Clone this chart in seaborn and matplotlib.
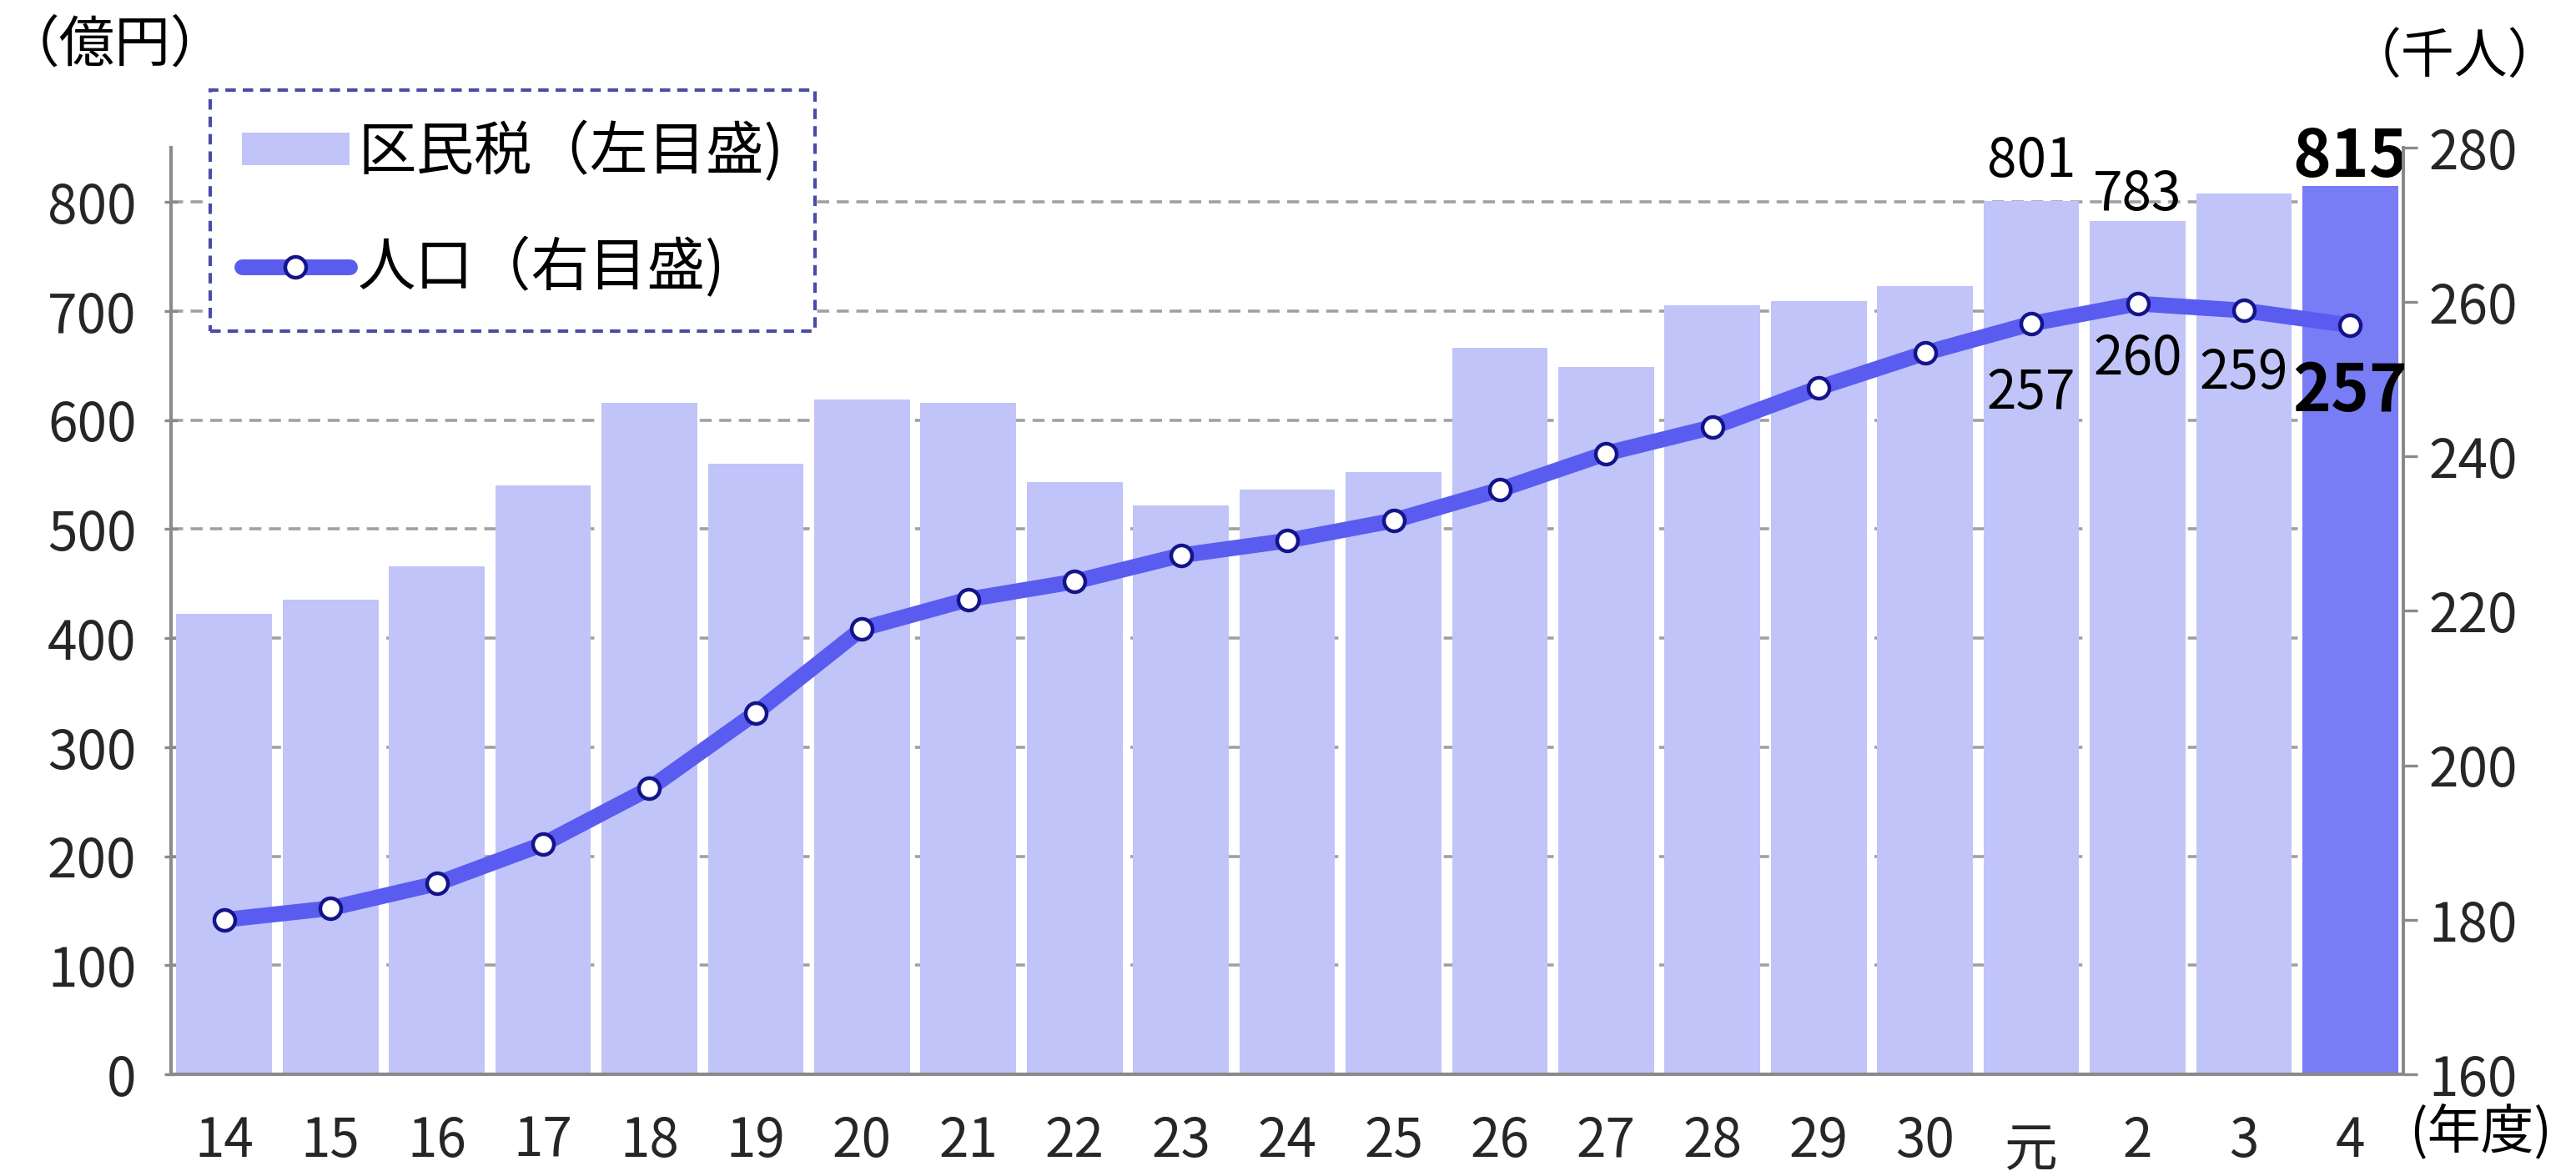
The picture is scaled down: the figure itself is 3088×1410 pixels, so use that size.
import numpy as np
import pandas as pd
import seaborn as sns
import matplotlib
matplotlib.use("Agg")
import matplotlib.pyplot as plt
from matplotlib.lines import Line2D
from matplotlib.patches import Patch
from matplotlib.transforms import ScaledTranslation

# fiscal years (Heisei 14-30, Reiwa 元-4)
years = ["14", "15", "16", "17", "18", "19", "20", "21", "22", "23", "24",
         "25", "26", "27", "28", "29", "30", "元", "2", "3", "4"]
# ward resident tax (億円, left axis)
tax = [422, 435, 466, 540, 616, 560, 619, 616, 543, 522, 536,
       552, 666, 649, 705, 709, 723, 801, 783, 808, 815]
# population (千人, right axis)
pop = [180.0, 181.5, 184.7, 189.8, 197.0, 206.8, 217.7, 221.5, 223.8, 227.2, 229.1,
       231.7, 235.7, 240.4, 243.8, 248.9, 253.4, 257.2, 259.8, 258.9, 257.0]
tax_labels = {"元": "801", "2": "783", "4": "815"}
pop_labels = {"元": "257", "2": "260", "3": "259", "4": "257"}

LIGHT = "#c0c4f8"
DARK = "#787cf5"
LINE = "#5a5cf0"
GRAY = "#8a8a8a"

sns.set_theme(style="white")
plt.rcParams["font.family"] = ["Noto Sans CJK JP", "DejaVu Sans"]
plt.rcParams["text.color"] = "black"

df = pd.DataFrame({"year": years, "tax": tax, "pop": pop})
df["pos"] = np.arange(len(df))

fig = plt.figure(figsize=(15.44, 7.05), dpi=200)
ax = fig.add_axes([0.0664, 0.0865, 0.8666, 0.788])

colors = [LIGHT] * (len(years) - 1) + [DARK]
sns.barplot(data=df, x="year", y="tax", hue="year", palette=colors, legend=False,
            width=0.9, saturation=1, linewidth=0, ax=ax)
ax.set_xlim(-0.5, len(years) - 0.5)
ax.set_ylim(0, 850)
ax.set_yticks(np.arange(0, 801, 100))
ax.set_xlabel("")
ax.set_ylabel("")
ax.set_axisbelow(True)
ax.yaxis.grid(True, color="#a0a0a0", linestyle=(0, (4, 2.5)), linewidth=1.3)
ax.xaxis.grid(False)

ax.set_xticks(np.arange(-0.5, len(years), 1), minor=True)
ax.tick_params(axis="x", which="major", length=0, pad=17, labelsize=23)
ax.tick_params(axis="x", which="minor", length=7, width=1.2, color=GRAY, direction="out")
ax.tick_params(axis="y", length=6, width=1.2, color=GRAY, direction="inout", pad=12, labelsize=23)
ax.yaxis.set_ticks_position("left")
for lab in ax.get_xticklabels():
    if lab.get_text() == "元":
        lab.set_transform(lab.get_transform() + ScaledTranslation(0, -4 / 72, fig.dpi_scale_trans))

for s in ["left", "bottom", "right"]:
    ax.spines[s].set_color(GRAY)
    ax.spines[s].set_linewidth(1.4)
ax.spines["top"].set_visible(False)

# population line on the right axis
ax2 = ax.twinx()
sns.lineplot(data=df, x="pos", y="pop", ax=ax2, color=LINE, linewidth=6.8,
             marker="o", markersize=9, markerfacecolor="white",
             markeredgecolor="#14148a", markeredgewidth=1.6)
ax2.set_ylim(160, 280)
ax2.set_yticks(np.arange(160, 281, 20))
ax2.set_ylabel("")
ax2.set_xlabel("")
ax2.tick_params(axis="y", length=6, width=1.2, color=GRAY, direction="out", pad=5, labelsize=23)
ax2.grid(False)
for s in ["left", "bottom", "right"]:
    ax2.spines[s].set_color(GRAY)
    ax2.spines[s].set_linewidth(1.4)
ax2.spines["top"].set_visible(False)

# value labels
tax_off = {"元": 17, "2": 11, "4": 12}
for i, y in enumerate(years):
    if y in tax_labels:
        bold = y == years[-1]
        ax.annotate(tax_labels[y], (i, tax[i]), xytext=(0, tax_off[y]),
                    textcoords="offset points", ha="center", va="center",
                    fontsize=28 if bold else 23, fontweight="bold" if bold else "normal")
pop_off = {"元": -30, "2": -24, "3": -27, "4": -29}
for i, y in enumerate(years):
    if y in pop_labels:
        bold = y == years[-1]
        ax2.annotate(pop_labels[y], (i, pop[i]), xytext=(0, pop_off[y]),
                     textcoords="offset points", ha="center", va="center",
                     fontsize=28 if bold else 23, fontweight="bold" if bold else "normal")

# legend
handles = [
    Patch(facecolor=LIGHT, edgecolor="none"),
    Line2D([0], [0], color=LINE, linewidth=6.8, marker="o", markersize=9,
           markerfacecolor="white", markeredgecolor="#14148a", markeredgewidth=1.6),
]
leg = fig.legend(handles, ["区民税（左目盛)", "人口（右目盛)"], loc="upper left",
                 bbox_to_anchor=(0.0816, 0.9234), borderaxespad=0, fontsize=25,
                 frameon=True, fancybox=False, framealpha=1, borderpad=0.55,
                 labelspacing=0.95, handlelength=1.85, handleheight=0.5, handletextpad=0.15)
frame = leg.get_frame()
frame.set_edgecolor("#4b4ba8")
frame.set_linestyle((0, (3, 2)))
frame.set_linewidth(1.5)
frame.set_facecolor("white")

# unit labels
fig.text(0.0447, 0.961, "（億円）", ha="center", va="center", fontsize=24)
fig.text(0.953, 0.951, "（千人）", ha="center", va="center", fontsize=23)
fig.text(0.963, 0.036, "(年度)", ha="center", va="center", fontsize=23)

fig.savefig("out.png", dpi=200)
